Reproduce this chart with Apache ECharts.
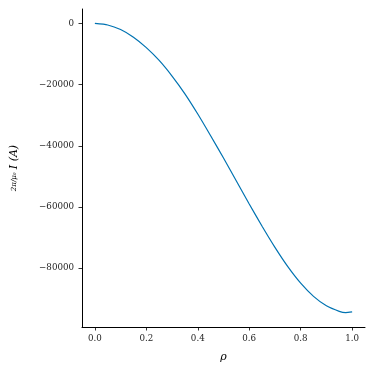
<!DOCTYPE html>
<html>
<head>
<meta charset="utf-8">
<script src="https://cdn.jsdelivr.net/npm/echarts@6/dist/echarts.min.js"></script>
<style>html,body{margin:0;padding:0;background:#fff}#c{width:374px;height:374px}</style>
</head>
<body>
<div id="c"></div>
<script>
var rho = [0, 0.05, 0.1, 0.15, 0.2, 0.25, 0.3, 0.35, 0.4, 0.45, 0.5, 0.55, 0.6, 0.65, 0.7, 0.75, 0.8, 0.85, 0.9, 0.95, 0.975, 1.0];
var current = [0, -500, -2000, -4500, -7900, -12100, -17200, -23000, -29600, -36700, -44000, -51500, -59000, -66300, -73200, -79500, -84900, -89200, -92300, -94100, -94500, -94300];
var xTicks = [0, 0.2, 0.4, 0.6, 0.8, 1.0];
var yTicks = [-80000, -60000, -40000, -20000, 0];

var font = "'DejaVu Serif', serif";
var chart = echarts.init(document.getElementById('c'), null, {renderer: 'canvas'});
chart.setOption({
  animation: false,
  backgroundColor: '#fff',
  grid: {left: 82, right: 9, top: 9, bottom: 47, containLabel: false},
  xAxis: {
    type: 'value', min: -0.05, max: 1.05,
    name: 'ρ', nameLocation: 'middle', nameGap: 25,
    nameTextStyle: {fontFamily: font, fontStyle: 'italic', fontSize: 11, color: '#000'},
    axisLine: {onZero: false, lineStyle: {color: '#000', width: 1}},
    axisTick: {show: true, inside: false, length: 3.5, lineStyle: {color: '#000', width: 0.8}, customValues: xTicks},
    axisLabel: {fontFamily: font, fontSize: 8.7, color: '#222', margin: 7, customValues: xTicks,
      formatter: function (v) { return v.toFixed(1); }},
    splitLine: {show: false}
  },
  yAxis: {
    type: 'value', min: -99225, max: 4725,
    name: '{f|2π/μ₀} {m|I (A)}', nameLocation: 'middle', nameGap: 62, nameRotate: 90,
    nameTextStyle: {fontFamily: font, fontStyle: 'italic', fontSize: 10, color: '#000',
      rich: {
        f: {fontFamily: font, fontStyle: 'italic', fontSize: 7, color: '#000'},
        m: {fontFamily: font, fontStyle: 'italic', fontSize: 11, color: '#000'}
      }},
    axisLine: {show: true, onZero: false, lineStyle: {color: '#000', width: 1}},
    axisTick: {show: true, inside: false, length: 3.5, lineStyle: {color: '#000', width: 0.8}, customValues: yTicks},
    axisLabel: {fontFamily: font, fontSize: 8.7, color: '#222', margin: 8, customValues: yTicks,
      formatter: function (v) { return String(v).replace('-', '\u2212'); }},
    splitLine: {show: false}
  },
  series: [{
    type: 'line',
    data: rho.map(function (r, i) { return [r, current[i]]; }),
    smooth: 0.2,
    showSymbol: false,
    lineStyle: {color: '#0173b2', width: 1.2},
    itemStyle: {color: '#0173b2'}
  }]
});
</script>
</body>
</html>
